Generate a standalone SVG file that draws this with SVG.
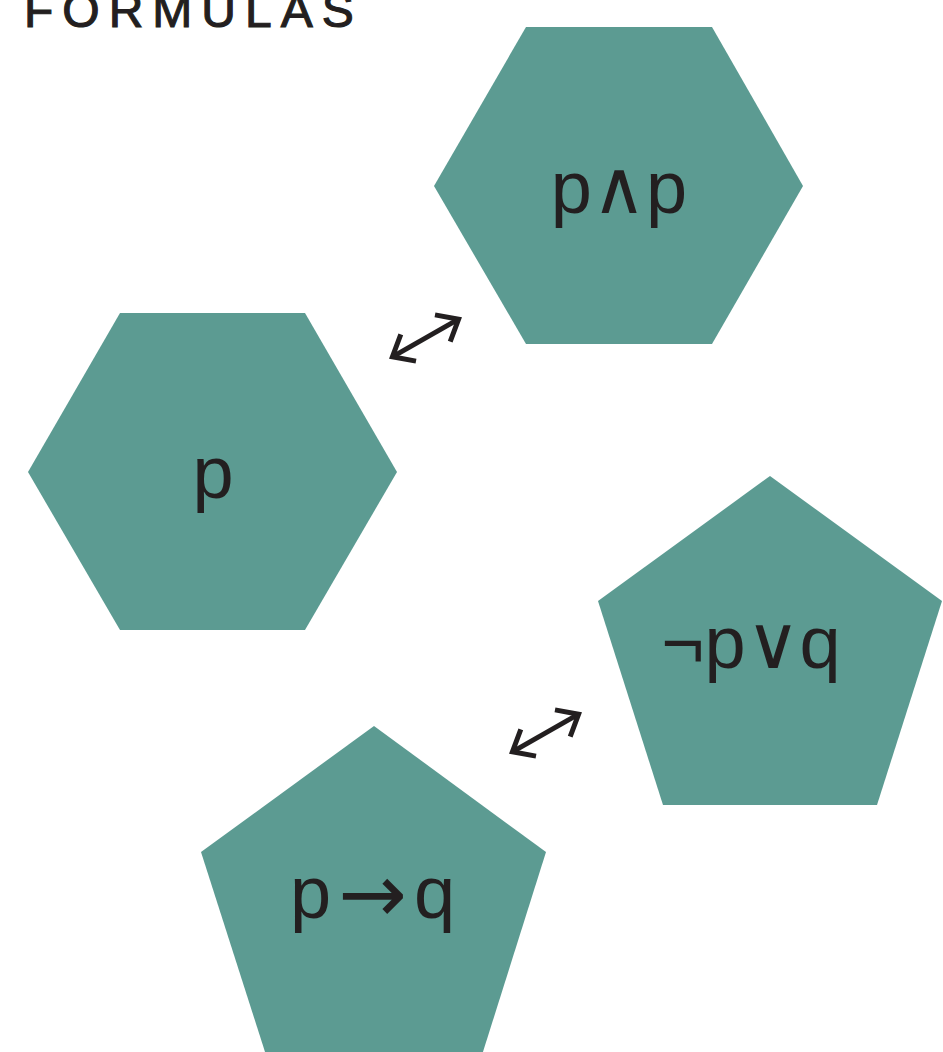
<svg xmlns="http://www.w3.org/2000/svg" width="943" height="1052" viewBox="0 0 943 1052">
  <defs>
    <style>
      .shape { fill: #5c9b92; }
      .label { font-family: "Liberation Sans", Arial, sans-serif; font-size: 74px; fill: #231f20; text-anchor: middle; }
      .start { text-anchor: start; }
      .sym { font-family: "DejaVu Sans", sans-serif; font-size: 82px; }
      .title { font-family: "Liberation Sans", Arial, sans-serif; font-size: 48px; fill: #231f20; stroke: #231f20; stroke-width: 1.1; letter-spacing: 9px; }
      .link { stroke: #231f20; stroke-width: 5; fill: none; }
    </style>
    <!-- open chevron head, sized in user pixels -->
    <marker id="head" viewBox="-24 -20 30 40" refX="0" refY="0" markerWidth="30" markerHeight="40" markerUnits="userSpaceOnUse" orient="auto-start-reverse">
      <path d="M-18.4,-15.4 L0,0 L-18.4,15.4" fill="none" stroke="#231f20" stroke-width="5" stroke-linejoin="miter"/>
    </marker>
  </defs>

  <text class="title" x="24" y="27">FORMULAS</text>

  <g id="node-pandp">
    <polygon class="shape" points="526,27 712,27 803,186 712,344 526,344 434,186"/>
    <text class="label" x="619" y="213">p∧p</text>
  </g>

  <g id="node-p">
    <polygon class="shape" points="120,313 305,313 397,472 305,630 120,630 28,472"/>
    <text class="label" x="213" y="498">p</text>
  </g>

  <g id="node-notporq">
    <polygon class="shape" points="770,476 942,601 877,805 663,805 598,601"/>
    <text class="label" x="751" y="668">¬p∨q</text>
  </g>

  <g id="node-pimpq">
    <polygon class="shape" points="374,726 546,852 482,1055 266,1055 201,852"/>
    <text class="label start" x="290" y="918">p<tspan class="sym" x="338" y="922">→</tspan><tspan x="414" y="918">q</tspan></text>
  </g>

  <g id="connectors">
    <path class="link" d="M392.4,356.8 L458.6,319.2" marker-start="url(#head)" marker-end="url(#head)"/>
    <path class="link" d="M512.4,751.8 L578.6,714.2" marker-start="url(#head)" marker-end="url(#head)"/>
  </g>
</svg>
